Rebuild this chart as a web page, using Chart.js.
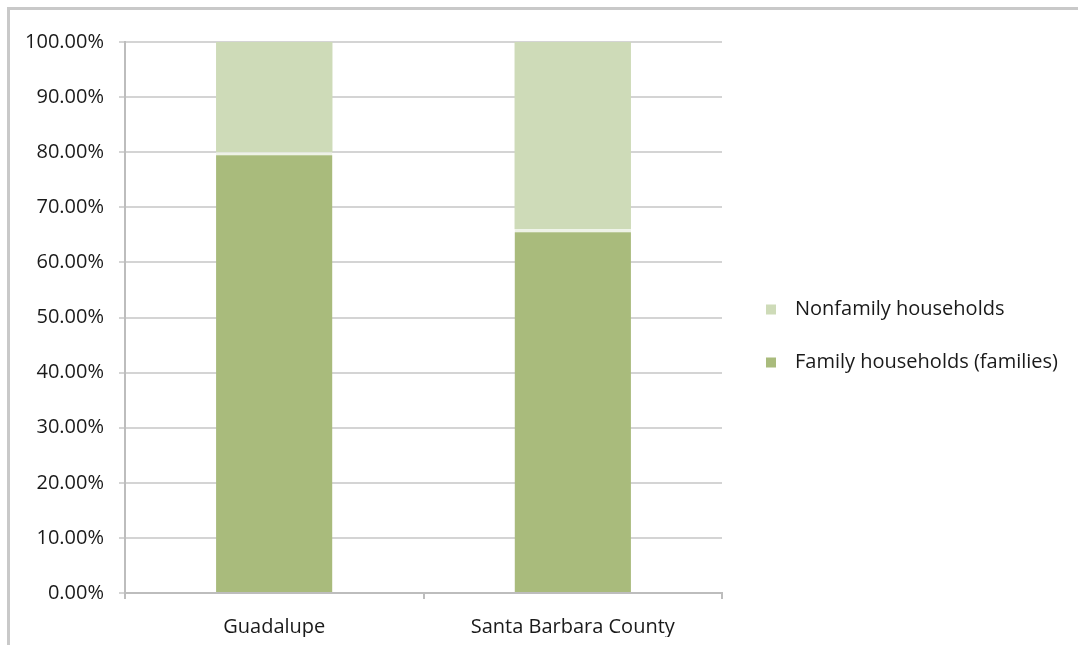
<!DOCTYPE html>
<html>
<head>
<meta charset="utf-8">
<script src="https://cdn.jsdelivr.net/npm/chart.js@4"></script>
<style>
  body { margin: 0; background: #fff; }
  #frame {
    position: absolute; left: 7px; top: 7px; width: 1071px; height: 638px;
    border-top: 3px solid #c9c9c9; border-left: 3px solid #c9c9c9;
  }
  #wrap { position: absolute; left: 10px; top: 10px; width: 1068px; height: 635px; }
</style>
</head>
<body>
<div id="frame"></div>
<div id="wrap"><canvas id="barCanvas"></canvas></div>
<script>
const categories = ["Guadalupe", "Santa Barbara County"];
const familyValues = [0.80, 0.66];
const nonfamilyValues = [0.20, 0.34];
const yTickLabels = ["0.00%", "10.00%", "20.00%", "30.00%", "40.00%", "50.00%",
  "60.00%", "70.00%", "80.00%", "90.00%", "100.00%"];

const textFont = "Open Sans";
const textColor = "#1a1a1a";

// legend on the right, drawn by hand so the spacing matches the original
const sideLegend = {
  id: "sideLegend",
  afterDraw(chart) {
    const ctx = chart.ctx;
    const area = chart.chartArea;
    const items = chart.data.datasets.slice().reverse();
    const x = area.right + 44;
    let y = (area.top + area.bottom) / 2 - 8;
    ctx.save();
    ctx.font = "20px " + textFont;
    ctx.textBaseline = "middle";
    items.forEach((ds) => {
      ctx.fillStyle = ds.backgroundColor;
      ctx.fillRect(x, y - 5, 10, 10);
      ctx.fillStyle = textColor;
      ctx.fillText(ds.label, x + 29, y);
      y += 53;
    });
    ctx.restore();
  }
};

const barCanvas = document.getElementById("barCanvas");

const barChart = new Chart(barCanvas, {
  type: "bar",
  data: {
    labels: categories,
    datasets: [
      {
        label: "Family households (families)",
        data: familyValues,
        backgroundColor: "#a9bb7c",
        borderColor: "#eef2e6",
        borderWidth: { top: 3, left: 0, right: 0, bottom: 0 },
        borderSkipped: false,
        barPercentage: 0.39,
        categoryPercentage: 1
      },
      {
        label: "Nonfamily households",
        data: nonfamilyValues,
        backgroundColor: "#cedbb8",
        barPercentage: 0.39,
        categoryPercentage: 1
      }
    ]
  },
  options: {
    responsive: true,
    maintainAspectRatio: false,
    animation: false,
    layout: { padding: { top: 32, right: 356, bottom: 8, left: 0 } },
    plugins: {
      tooltip: { enabled: false },
      legend: { display: false }
    },
    scales: {
      x: {
        stacked: true,
        grid: {
          offset: true,
          drawOnChartArea: false,
          drawTicks: true,
          tickLength: 6,
          color: "#bdbdbd",
          lineWidth: 2
        },
        border: { color: "#bdbdbd", width: 2 },
        ticks: {
          color: textColor,
          padding: 16,
          font: { family: textFont, size: 20 }
        },
        afterFit: (scale) => { scale.height = 44; }
      },
      y: {
        stacked: true,
        min: 0,
        max: 1,
        grid: {
          color: "#d4d4d4",
          lineWidth: 2,
          tickLength: 6
        },
        border: { color: "#bdbdbd", width: 2 },
        ticks: {
          stepSize: 0.1,
          color: textColor,
          padding: 15,
          font: { family: textFont, size: 20 },
          callback: (v, i) => yTickLabels[i]
        },
        afterFit: (scale) => { scale.width = 115; }
      }
    }
  },
  plugins: [sideLegend]
});
</script>
</body>
</html>
